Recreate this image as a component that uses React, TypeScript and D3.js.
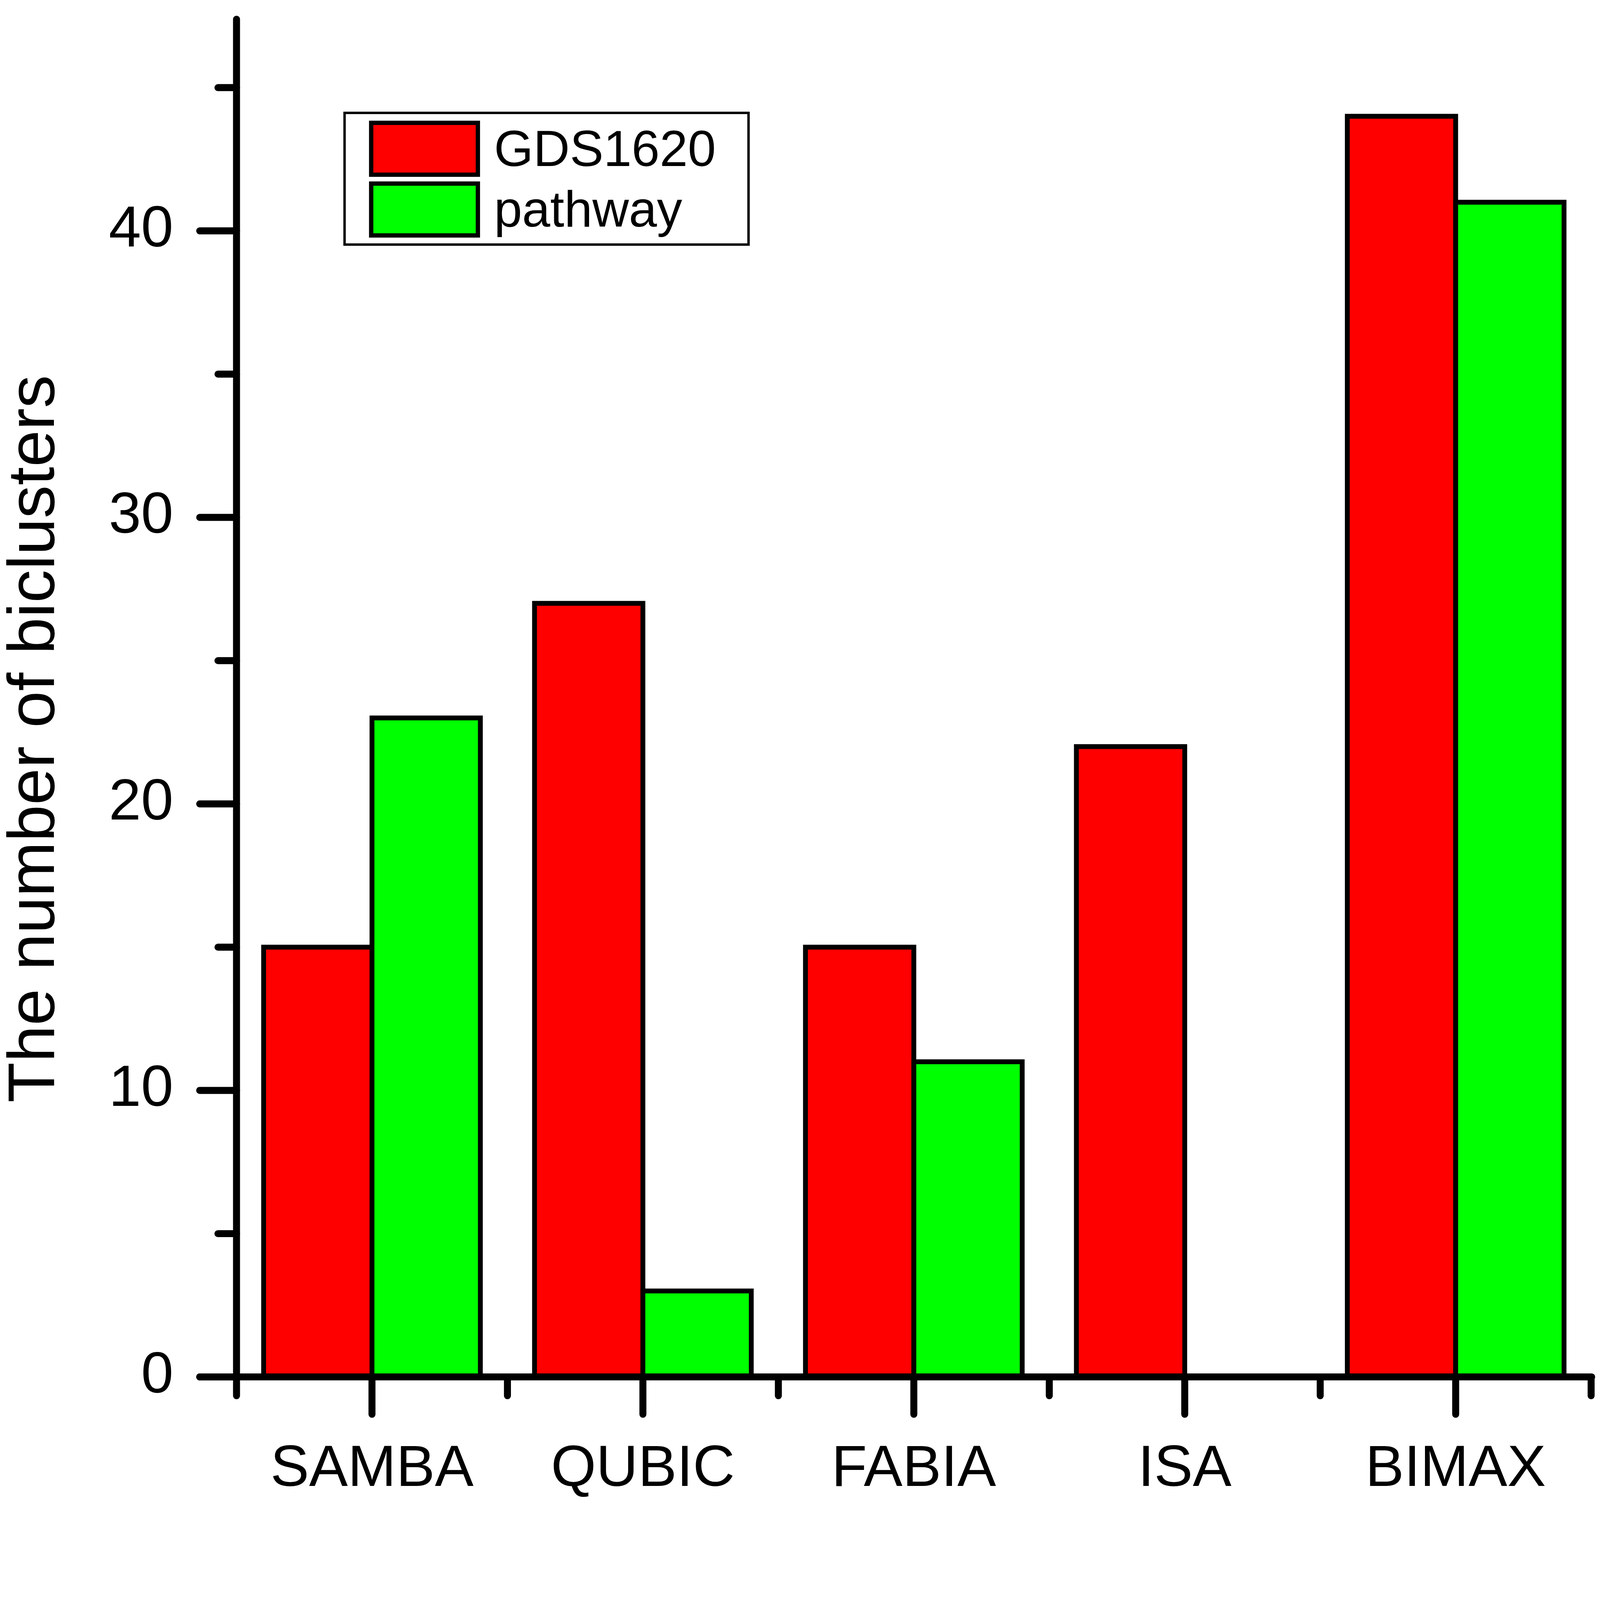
import React, { useEffect } from "react";
import * as d3 from "d3";

const categories = ["SAMBA", "QUBIC", "FABIA", "ISA", "BIMAX"];
const seriesNames = ["GDS1620", "pathway"];
const gdsValues = [15, 27, 15, 22, 44];
const pathwayValues = [23, 3, 11, 0, 41];
const seriesColors = ["#FF0000", "#00FF00"];
const majorYTicks = [0, 10, 20, 30, 40];
const minorYTicks = [5, 15, 25, 35, 45];
const yTitle = "The number of biclusters";

const W = 5953;
const H = 5558;
const X0 = 880;
const X1 = 5920;
const Y0 = 5123;
const YMAX = 47.5;
const FONT = "'Liberation Sans', Arial, Helvetica, sans-serif";

export default function App() {
  useEffect(() => {
    document.body.style.margin = "0";
    document.body.style.overflow = "hidden";
    document.documentElement.style.overflow = "hidden";
  }, []);

  const x = d3
    .scaleBand<string>()
    .domain(categories)
    .range([X0, X1])
    .paddingInner(0.2)
    .paddingOuter(0.1);
  const sub = d3
    .scaleBand<string>()
    .domain(seriesNames)
    .range([0, x.bandwidth()]);
  const y = d3
    .scaleLinear()
    .domain([0, YMAX])
    .range([Y0, Y0 - YMAX * 106.6]);

  const series = [gdsValues, pathwayValues];
  const step = x.step();
  const boundaries = d3.range(categories.length + 1).map((i) => X0 + i * step);

  return (
    <svg
      viewBox={`0 0 ${W} ${H}`}
      preserveAspectRatio="xMinYMin meet"
      style={{
        position: "fixed",
        left: 0,
        top: 0,
        width: "100vw",
        height: "100vh",
        background: "#fff",
        display: "block",
      }}
    >
      <rect x={0} y={0} width={W} height={H} fill="#fff" />
      {/* bars */}
      {categories.map((c, i) =>
        series.map((vals, s) => {
          const v = vals[i];
          if (v <= 0) return null;
          const bx = (x(c) as number) + (sub(seriesNames[s]) as number);
          return (
            <rect
              key={c + s}
              x={bx}
              y={y(v)}
              width={sub.bandwidth()}
              height={Y0 - y(v)}
              fill={seriesColors[s]}
              stroke="#000"
              strokeWidth={18}
            />
          );
        })
      )}
      {/* axes */}
      <g stroke="#000" strokeLinecap="round" fill="none">
        <line x1={743} y1={Y0} x2={X1 + 2} y2={Y0} strokeWidth={26} />
        <line x1={X0} y1={Y0} x2={X0} y2={y(YMAX) + 12} strokeWidth={26} />
        {majorYTicks.map((t) => (
          <line key={"my" + t} x1={743} y1={y(t)} x2={X0} y2={y(t)} strokeWidth={26} />
        ))}
        {minorYTicks.map((t) => (
          <line key={"ny" + t} x1={811} y1={y(t)} x2={X0} y2={y(t)} strokeWidth={26} />
        ))}
        {categories.map((c) => {
          const cx = (x(c) as number) + x.bandwidth() / 2;
          return <line key={"mx" + c} x1={cx} y1={Y0} x2={cx} y2={5262} strokeWidth={26} />;
        })}
        {boundaries.map((bx, i) => (
          <line key={"nx" + i} x1={bx} y1={Y0} x2={bx} y2={5193} strokeWidth={26} />
        ))}
      </g>
      {/* y tick labels */}
      <g fontFamily={FONT} fontSize={216} fill="#000" textAnchor="end">
        {majorYTicks.map((t) => (
          <text key={"ly" + t} x={645} y={y(t) + 58}>
            {t}
          </text>
        ))}
      </g>
      {/* x labels */}
      <g fontFamily={FONT} fontSize={216} fill="#000" textAnchor="middle">
        {categories.map((c) => (
          <text key={"lx" + c} x={(x(c) as number) + x.bandwidth() / 2} y={5529}>
            {c}
          </text>
        ))}
      </g>
      {/* y title */}
      <text
        transform={`translate(200, 2749) rotate(-90)`}
        fontFamily={FONT}
        fontSize={246}
        textAnchor="middle"
        fill="#000"
      >
        {yTitle}
      </text>
      {/* legend */}
      <rect x={1282} y={420} width={1503} height={490} fill="#fff" stroke="#000" strokeWidth={9} />
      {seriesNames.map((n, s) => (
        <g key={"lg" + n}>
          <rect
            x={1381}
            y={457 + s * 226}
            width={397}
            height={193}
            fill={seriesColors[s]}
            stroke="#000"
            strokeWidth={16}
          />
          <text x={1838} y={617 + s * 226} fontFamily={FONT} fontSize={188} fill="#000">
            {n}
          </text>
        </g>
      ))}
    </svg>
  );
}
